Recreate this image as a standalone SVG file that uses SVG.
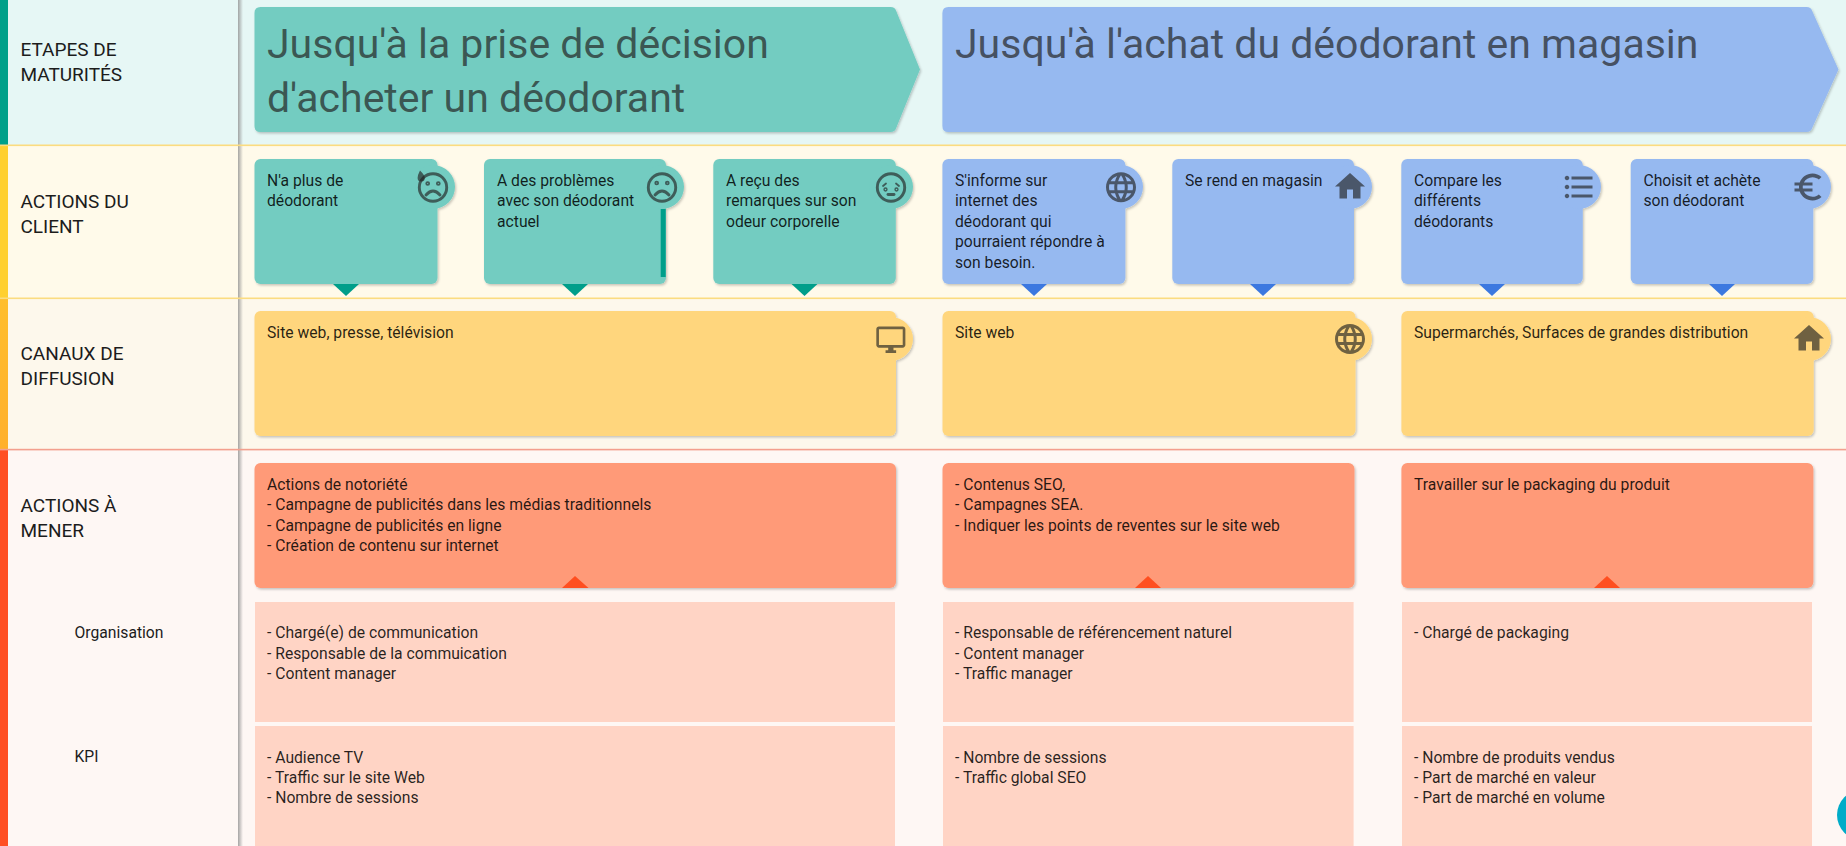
<svg xmlns="http://www.w3.org/2000/svg" width="1846" height="846" viewBox="0 0 1846 846">
<style>
text{font-family:Roboto,"Liberation Sans",sans-serif}
.t{font-size:15.7px;fill:#000;fill-opacity:.85}
.lab{font-size:19px;fill:#1c1c1c}
.sub{font-size:15.7px;fill:#1c1c1c}
.h{font-size:41px;font-weight:400;fill-opacity:.7;fill:#222}
.g{fill:#73ccc1}.b{fill:#96b9f0}.y{fill:#ffd67d}.r{fill:#ff9a78}.l{fill:#ffd4c5}
.gd{fill:#009e8a}.bd{fill:#3c78e0}.rd{fill:#ff4f20}
.ic{fill:#222;fill-opacity:.65}
.face{fill:none;stroke:#222;stroke-opacity:.65;stroke-width:2.9;stroke-linecap:round}
.shape{filter:url(#sh)}
</style>
<defs>
<filter id="sh" x="-5%" y="-5%" width="110%" height="110%"><feDropShadow dx="1.2" dy="1.5" stdDeviation="0.8" flood-color="#000" flood-opacity=".22"/></filter>
<linearGradient id="pshadow" x1="0" x2="1" y1="0" y2="0"><stop offset="0" stop-color="#8f8f8f" stop-opacity=".8"/><stop offset="1" stop-color="#8f8f8f" stop-opacity="0"/></linearGradient>
<linearGradient id="strip3" x1="0" x2="0" y1="0" y2="1"><stop offset="0" stop-color="#ffbe2c"/><stop offset="1" stop-color="#ffb02c"/></linearGradient>
<path id="home" d="M10 20v-6h4v6h5v-8h3L12 3 2 12h3v8z"/>
<path id="list" d="M4 10.5c-.83 0-1.5.67-1.5 1.5s.67 1.5 1.5 1.5 1.5-.67 1.5-1.5-.67-1.5-1.5-1.5zm0-6c-.83 0-1.5.67-1.5 1.5S3.17 7.5 4 7.5 5.5 6.83 5.5 6 4.83 4.5 4 4.5zm0 12c-.83 0-1.5.68-1.5 1.5s.68 1.5 1.5 1.5 1.5-.68 1.5-1.5-.67-1.5-1.5-1.5zM7 19h14v-2H7v2zm0-6h14v-2H7v2zm0-8v2h14V5H7z"/>
<path id="euro" d="M15 18.5c-2.51 0-4.68-1.42-5.76-3.5H15v-2H8.58c-.05-.33-.08-.66-.08-1s.03-.67.08-1H15V9H9.24C10.32 6.92 12.5 5.5 15 5.5c1.61 0 3.09.59 4.23 1.57L21 5.3C19.41 3.87 17.3 3 15 3c-3.92 0-7.24 2.51-8.48 6H3v2h3.06c-.04.33-.06.66-.06 1 0 .34.02.67.06 1H3v2h3.52c1.24 3.49 4.56 6 8.48 6 2.31 0 4.41-.87 6-2.3l-1.78-1.77c-1.13.98-2.6 1.57-4.22 1.57z"/>
<path id="monitor" d="M21 2H3c-1.1 0-2 .9-2 2v12c0 1.1.9 2 2 2h7v2H8v2h8v-2h-2v-2h7c1.1 0 2-.9 2-2V4c0-1.1-.9-2-2-2zm0 14H3V4h18v12z"/>
<path id="globe" d="M11.99 2C6.47 2 2 6.48 2 12s4.47 10 9.99 10C17.52 22 22 17.52 22 12S17.52 2 11.99 2zm6.93 6h-2.95c-.32-1.25-.78-2.45-1.38-3.56 1.84.63 3.37 1.91 4.33 3.56zM12 4.04c.83 1.2 1.48 2.53 1.91 3.96h-3.82c.43-1.43 1.08-2.76 1.91-3.96zM4.26 14C4.1 13.36 4 12.69 4 12s.1-1.36.26-2h3.38c-.08.66-.14 1.32-.14 2 0 .68.06 1.34.14 2H4.26zm.82 2h2.95c.32 1.25.78 2.45 1.38 3.56-1.84-.63-3.37-1.9-4.33-3.56zm2.95-8H5.08c.96-1.66 2.49-2.93 4.33-3.56C8.81 5.55 8.35 6.75 8.03 8zM12 19.96c-.83-1.2-1.48-2.53-1.91-3.96h3.82c-.43 1.43-1.08 2.76-1.91 3.96zM14.34 14H9.66c-.09-.66-.16-1.32-.16-2 0-.68.07-1.35.16-2h4.68c.09.65.16 1.32.16 2 0 .68-.07 1.34-.16 2zm.25 5.56c.6-1.11 1.06-2.31 1.38-3.56h2.95c-.96 1.65-2.49 2.93-4.33 3.56zM16.36 14c.08-.66.14-1.32.14-2 0-.68-.06-1.34-.14-2h3.38c.16.64.26 1.31.26 2s-.1 1.36-.26 2h-3.38z"/>
</defs>

<g id="background">
<rect x="0" y="0" width="1846" height="145" fill="#e6f7f5"/>
<rect x="0" y="145" width="1846" height="153" fill="#fffaea"/>
<rect x="0" y="298" width="1846" height="152" fill="#fdf8ec"/>
<rect x="0" y="450" width="1846" height="396" fill="#fef7f4"/>
<rect x="238" y="0" width="5" height="846" fill="url(#pshadow)"/>
<rect x="0" y="0" width="8" height="145" fill="#00a08a"/>
<rect x="0" y="145" width="8" height="153" fill="#ffd030"/>
<rect x="0" y="298" width="8" height="152" fill="url(#strip3)"/>
<rect x="0" y="450" width="8" height="396" fill="#ff4f22"/>
<rect x="0" y="144.5" width="1846" height="1.6" fill="#fbdc80"/>
<rect x="0" y="297.5" width="1846" height="1.6" fill="#fbdc80"/>
<rect x="0" y="448.8" width="1846" height="1.6" fill="#f3a08e"/>
</g>

<g id="label-etapes"><text class="lab" x="20.5" y="56">ETAPES DE</text><text class="lab" x="20.5" y="81">MATURITÉS</text></g>
<g id="label-actions-client"><text class="lab" x="20.5" y="208">ACTIONS DU</text><text class="lab" x="20.5" y="233">CLIENT</text></g>
<g id="label-canaux"><text class="lab" x="20.5" y="360">CANAUX DE</text><text class="lab" x="20.5" y="385">DIFFUSION</text></g>
<g id="label-actions-mener"><text class="lab" x="20.5" y="512">ACTIONS À</text><text class="lab" x="20.5" y="537">MENER</text></g>
<g id="label-organisation"><text class="sub" x="74.5" y="638">Organisation</text></g>
<g id="label-kpi"><text class="sub" x="74.5" y="762">KPI</text></g>

<g id="stage-decision">
<path class="g shape" d="M260.5 7H890.5Q895 7 896.2 11L920 69.5L896.2 128Q895 132 890.5 132H260.5Q254.5 132 254.5 126V13Q254.5 7 260.5 7Z"/>
<text class="h" x="267" y="58">Jusqu'à la prise de décision</text><text class="h" x="267" y="112">d'acheter un déodorant</text>
</g>
<g id="stage-achat">
<path class="b shape" d="M948.4 7H1806.5Q1811 7 1812.2 11L1838.5 69.5L1812.2 128Q1811 132 1806.5 132H948.4Q942.4 132 942.4 126V13Q942.4 7 948.4 7Z"/>
<text class="h" x="955" y="58">Jusqu'à l'achat du déodorant en magasin</text>
</g>

<g id="action-1">
<g class="shape"><rect class="g" x="254.5" y="159" width="183" height="125" rx="6"/><circle class="g" cx="433" cy="187" r="22"/></g>
<g class="face"><circle cx="433" cy="187.5" r="13.7"/><circle cx="427.7" cy="183.5" r=".9"/><circle cx="438.3" cy="183.5" r=".9"/><path d="M426 195Q433 187 440 195"/></g>
<path class="ic" d="M420 170.5Q425 175.5 424.8 178A3.6 3.6 0 0 1 417.6 178Q417.6 175 420 170.5Z"/>
<text class="t" x="267" y="186">N'a plus de</text><text class="t" x="267" y="206">déodorant</text>
</g>
<g id="action-2">
<g class="shape"><rect class="g" x="484" y="159" width="182" height="125" rx="6"/><circle class="g" cx="662" cy="187" r="22"/></g>
<rect class="gd" x="660.7" y="209" width="5" height="68"/>
<g class="face"><circle cx="662" cy="187.5" r="13.7"/><circle cx="656.7" cy="183" r=".9"/><circle cx="667.3" cy="183" r=".9"/><path d="M655 195Q662 187 669 195"/></g>
<text class="t" x="497" y="186">A des problèmes</text><text class="t" x="497" y="206">avec son déodorant</text><text class="t" x="497" y="226.5">actuel</text>
</g>
<g id="action-3">
<g class="shape"><rect class="g" x="713.3" y="159" width="182.5" height="125" rx="6"/><circle class="g" cx="891" cy="187" r="22"/></g>
<g class="face"><circle cx="891" cy="187.5" r="13.7"/><path stroke-width="1.8" d="M883 186L886 183.5M899 186L896 183.5"/><circle cx="885.5" cy="189.5" r=".7"/><circle cx="896.5" cy="189.5" r=".7"/><path d="M888 194.5H894"/></g>
<text class="t" x="726" y="186">A reçu des</text><text class="t" x="726" y="206">remarques sur son</text><text class="t" x="726" y="226.5">odeur corporelle</text>
</g>
<g id="action-4">
<g class="shape"><rect class="b" x="942.4" y="159" width="183" height="125" rx="6"/><circle class="b" cx="1121" cy="187" r="22"/></g>
<use class="ic" href="#globe" transform="translate(1103 169.3) scale(1.5)"/>
<text class="t" x="955" y="186">S'informe sur</text><text class="t" x="955" y="206">internet des</text><text class="t" x="955" y="226.5">déodorant qui</text><text class="t" x="955" y="247">pourraient répondre à</text><text class="t" x="955" y="267.5">son besoin.</text>
</g>
<g id="action-5">
<g class="shape"><rect class="b" x="1172.3" y="159" width="181.7" height="125" rx="6"/><circle class="b" cx="1350" cy="187" r="22"/></g>
<use class="ic" href="#home" transform="translate(1332 168.5) scale(1.5)"/>
<text class="t" x="1185" y="186">Se rend en magasin</text>
</g>
<g id="action-6">
<g class="shape"><rect class="b" x="1401.3" y="159" width="181.5" height="125" rx="6"/><circle class="b" cx="1579" cy="187" r="22"/></g>
<use class="ic" href="#list" transform="translate(1561 169) scale(1.5)"/>
<text class="t" x="1414" y="186">Compare les</text><text class="t" x="1414" y="206">différents</text><text class="t" x="1414" y="226.5">déodorants</text>
</g>
<g id="action-7">
<g class="shape"><rect class="b" x="1630.7" y="159" width="182.6" height="125" rx="6"/><circle class="b" cx="1809" cy="187" r="22"/></g>
<use class="ic" href="#euro" transform="translate(1790 169) scale(1.5)"/>
<text class="t" x="1643.5" y="186">Choisit et achète</text><text class="t" x="1643.5" y="206">son déodorant</text>
</g>

<g id="channel-1">
<g class="shape"><rect class="y" x="254.5" y="311" width="641.5" height="125" rx="6"/><circle class="y" cx="891" cy="339" r="22"/></g>
<use class="ic" href="#monitor" transform="translate(875 323.9) scale(1.32)"/>
<text class="t" x="267" y="338">Site web, presse, télévision</text>
</g>
<g id="channel-2">
<g class="shape"><rect class="y" x="942.5" y="311" width="413" height="125" rx="6"/><circle class="y" cx="1350" cy="339" r="22"/></g>
<use class="ic" href="#globe" transform="translate(1332 321) scale(1.5)"/>
<text class="t" x="955" y="338">Site web</text>
</g>
<g id="channel-3">
<g class="shape"><rect class="y" x="1401.4" y="311" width="412.3" height="125" rx="6"/><circle class="y" cx="1809" cy="339" r="22"/></g>
<use class="ic" href="#home" transform="translate(1791 320.5) scale(1.5)"/>
<text class="t" x="1414" y="338">Supermarchés, Surfaces de grandes distribution</text>
</g>

<g id="todo-1">
<rect class="r shape" x="254.5" y="463" width="641.5" height="125" rx="6"/>
<text class="t" x="267" y="490">Actions de notoriété</text><text class="t" x="267" y="510">- Campagne de publicités dans les médias traditionnels</text><text class="t" x="267" y="531">- Campagne de publicités en ligne</text><text class="t" x="267" y="551">- Création de contenu sur internet</text>
</g>
<g id="todo-2">
<rect class="r shape" x="942.5" y="463" width="412" height="125" rx="6"/>
<text class="t" x="955" y="490">- Contenus SEO,</text><text class="t" x="955" y="510">- Campagnes SEA.</text><text class="t" x="955" y="531">- Indiquer les points de reventes sur le site web</text>
</g>
<g id="todo-3">
<rect class="r shape" x="1401.4" y="463" width="412" height="125" rx="6"/>
<text class="t" x="1414" y="490">Travailler sur le packaging du produit</text>
</g>

<g id="org-1"><rect class="l" x="255" y="602" width="640" height="120"/>
<text class="t" x="267" y="638">- Chargé(e) de communication</text><text class="t" x="267" y="659">- Responsable de la commuication</text><text class="t" x="267" y="679">- Content manager</text></g>
<g id="org-2"><rect class="l" x="943" y="602" width="410.6" height="120"/>
<text class="t" x="955" y="638">- Responsable de référencement naturel</text><text class="t" x="955" y="659">- Content manager</text><text class="t" x="955" y="679">- Traffic manager</text></g>
<g id="org-3"><rect class="l" x="1402" y="602" width="410" height="120"/>
<text class="t" x="1414" y="638">- Chargé de packaging</text></g>
<g id="kpi-1"><rect class="l" x="255" y="726" width="640" height="120"/>
<text class="t" x="267" y="763">- Audience TV</text><text class="t" x="267" y="783">- Traffic sur le site Web</text><text class="t" x="267" y="803">- Nombre de sessions</text></g>
<g id="kpi-2"><rect class="l" x="943" y="726" width="410.6" height="120"/>
<text class="t" x="955" y="763">- Nombre de sessions</text><text class="t" x="955" y="783">- Traffic global SEO</text></g>
<g id="kpi-3"><rect class="l" x="1402" y="726" width="410" height="120"/>
<text class="t" x="1414" y="763">- Nombre de produits vendus</text><text class="t" x="1414" y="783">- Part de marché en valeur</text><text class="t" x="1414" y="803">- Part de marché en volume</text></g>

<g id="connectors">
<polygon class="gd" points="333,284 359,284 346,296"/>
<polygon class="gd" points="562,284 588,284 575,296"/>
<polygon class="gd" points="791.5,284 817.5,284 804.5,296"/>
<polygon class="bd" points="1021,284 1047,284 1034,296"/>
<polygon class="bd" points="1250,284 1276,284 1263,296"/>
<polygon class="bd" points="1479,284 1505,284 1492,296"/>
<polygon class="bd" points="1709,284 1735,284 1722,296"/>
<polygon class="rd" points="562,588 588.5,588 575,576"/>
<polygon class="rd" points="1135,588 1161,588 1148,576"/>
<polygon class="rd" points="1594,588 1620,588 1607,576"/>
</g>
<circle id="corner-badge" cx="1862" cy="815" r="25" fill="#00acc8"/>
</svg>
